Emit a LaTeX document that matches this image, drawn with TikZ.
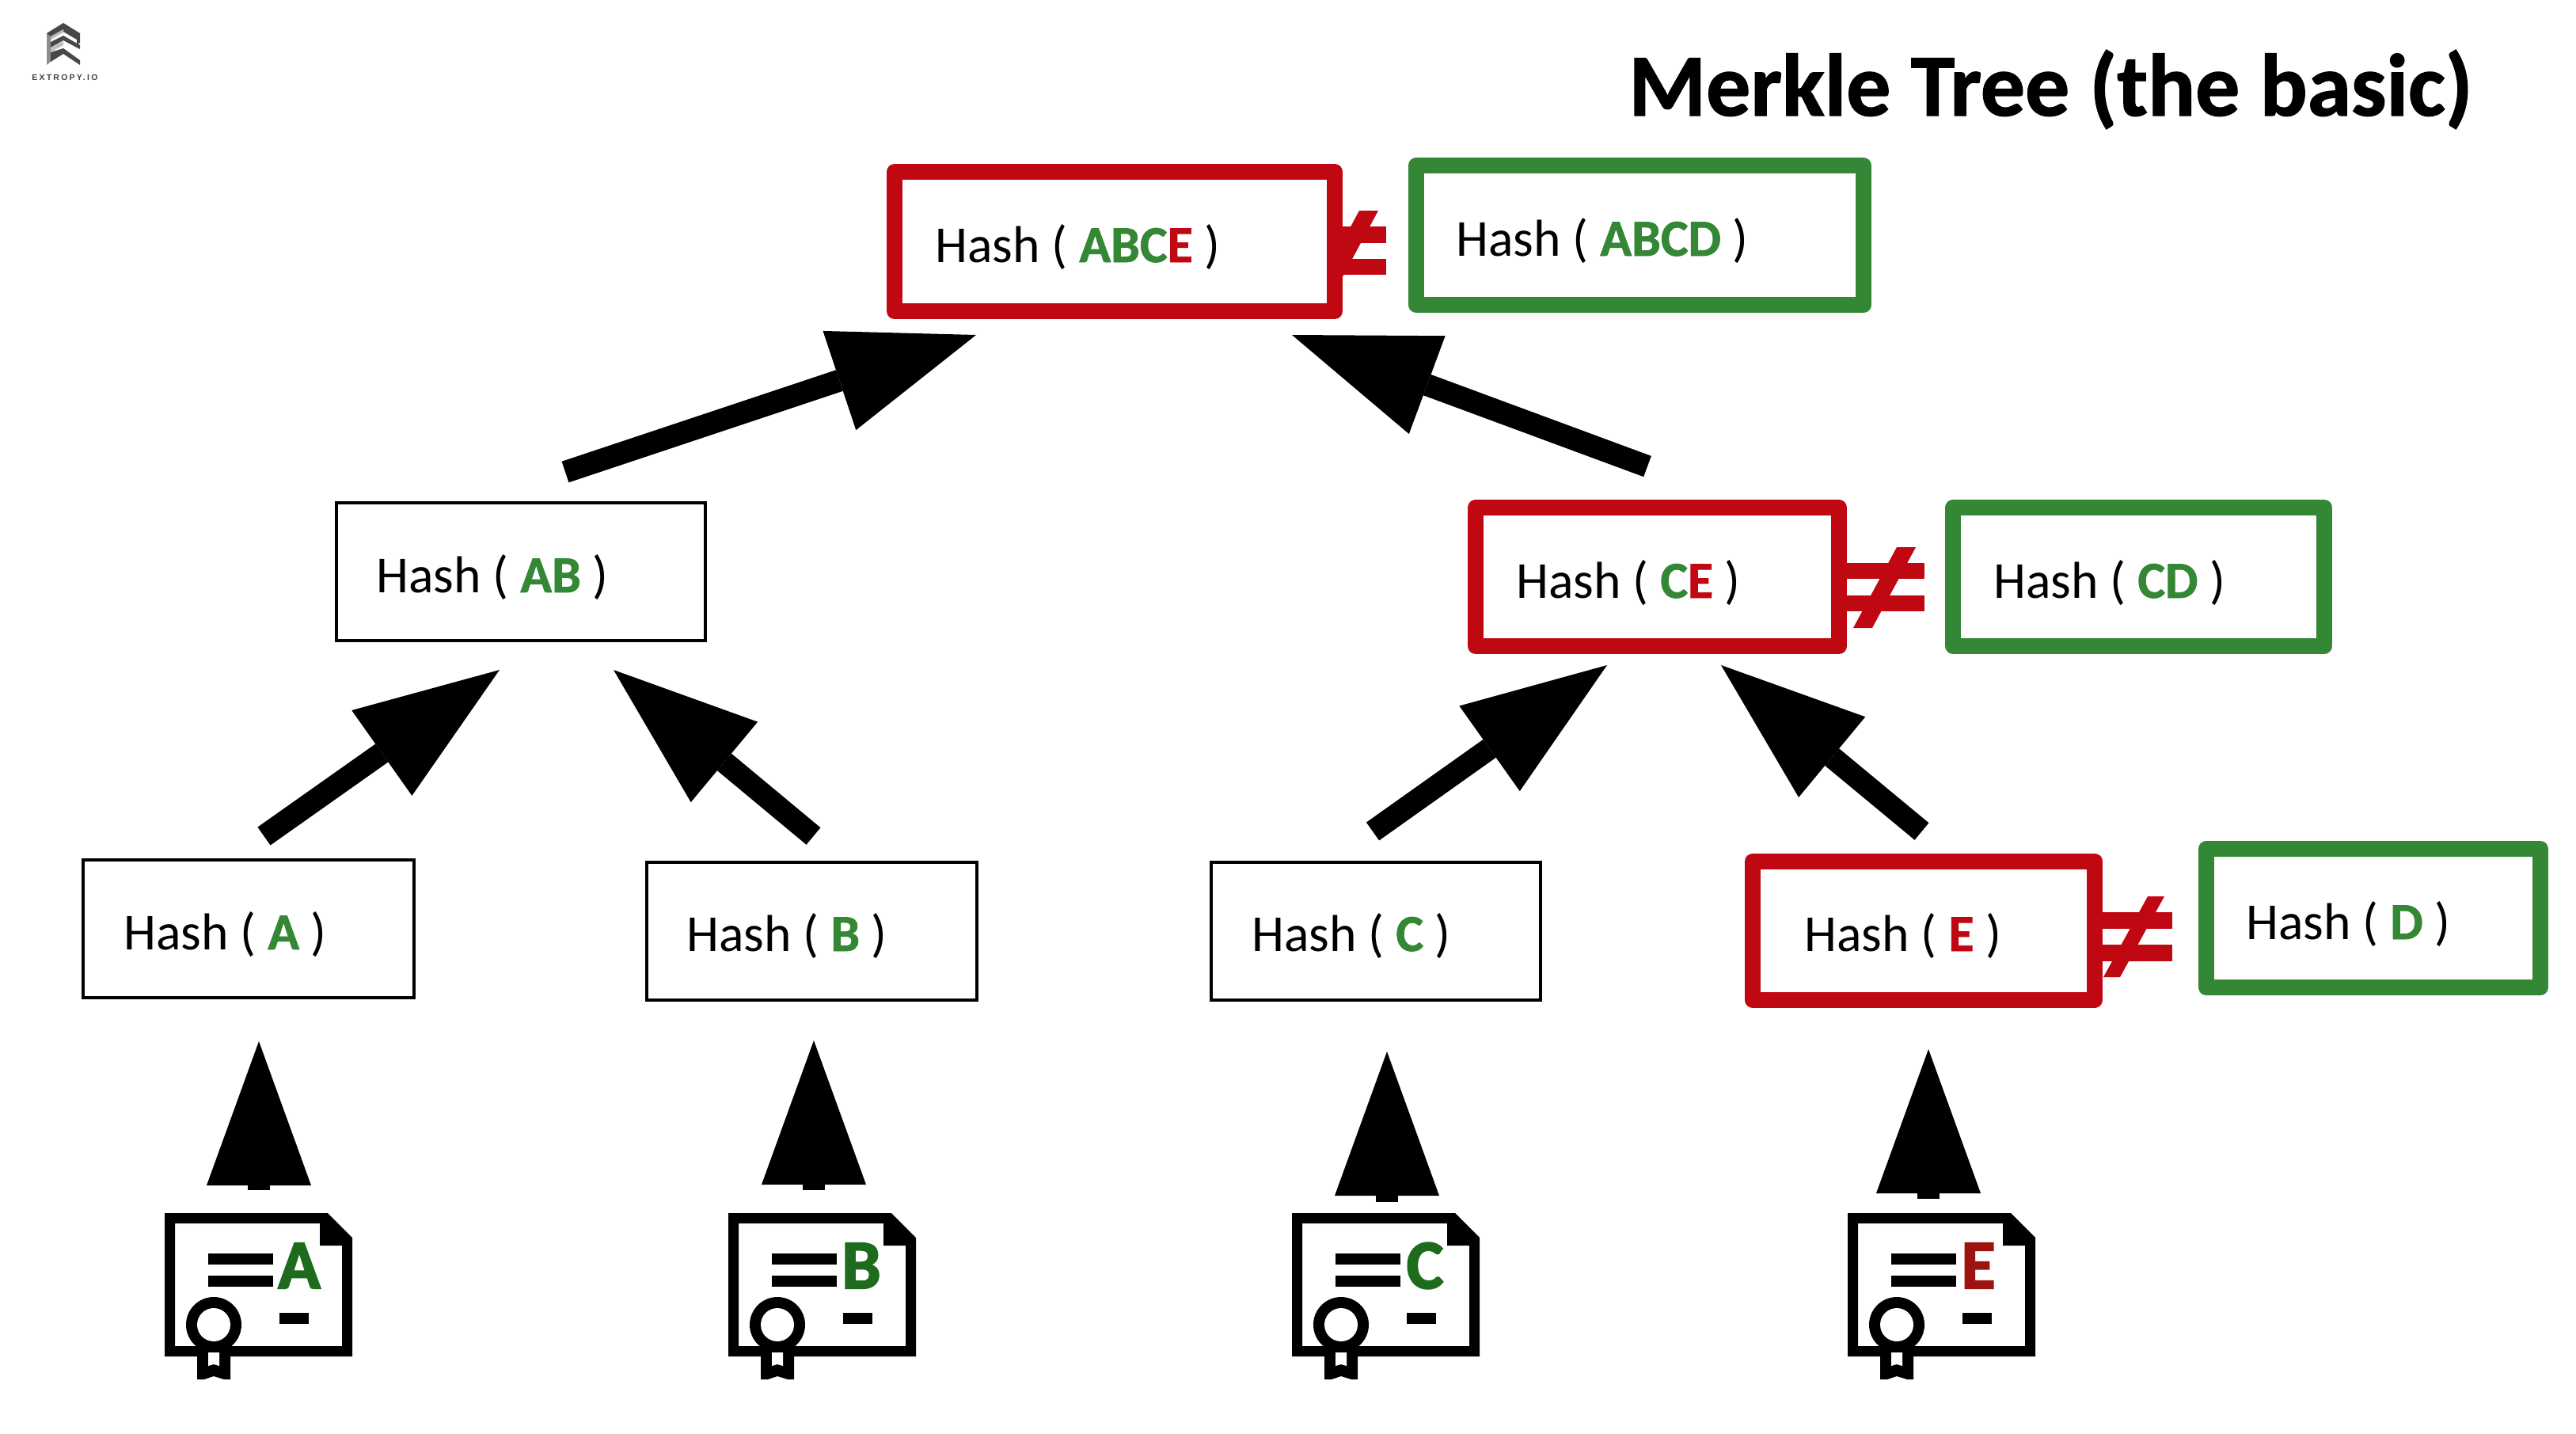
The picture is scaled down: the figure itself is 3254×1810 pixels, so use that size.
\documentclass[tikz,border=0pt]{standalone}
\usepackage{fontspec}
\setmainfont{Carlito}[BoldFeatures={FakeBold=1.2}]
\newfontfamily\logofont[LetterSpace=22]{Liberation Sans}
\newfontfamily\certfont{Carlito}[BoldFeatures={FakeBold=2.4}]
\usetikzlibrary{arrows.meta}
\definecolor{hgreen}{HTML}{348734}
\definecolor{hred}{HTML}{C00812}
\definecolor{cgreen}{HTML}{1F6B1E}
\definecolor{cred}{HTML}{9C130F}
\tikzset{
  x=0.5pt,y=-0.5pt,
  plainbox/.style={draw=black,fill=white,line width=1.75pt,inner sep=0,line join=miter},
  redbox/.style={draw=hred,fill=white,line width=10pt,inner sep=0,line join=round},
  greenbox/.style={draw=hgreen,fill=white,line width=10pt,inner sep=0,line join=round},
  hashtxt/.style={anchor=base west,inner sep=0,font=\fontsize{32.8}{38}\selectfont},
  bigarrow/.style={line width=14pt,line cap=butt,-{Triangle[length=91pt,width=66pt,line width=0pt,sep=0pt]}},
  neqred/.style={fill=hred,draw=none},
  certink/.style={fill=black,draw=none},
  certletter/.style={anchor=base,inner sep=0,font=\certfont\fontsize{44}{50}\selectfont\bfseries}
}
\newcommand{\mybox}[6]{% style,name,x0,y0,x1,y1
  \node[#1,minimum width=#5*0.5pt-#3*0.5pt,minimum height=#6*0.5pt-#4*0.5pt] (#2) at ({(#3+#5)/2},{(#4+#6)/2}) {};}
\newcommand{\mycert}[5]{% left, node name, colour, letter, letter x
  \begin{scope}[xshift=#1*0.5pt-104pt]
    \fill[certink,even odd rule] (208,1532)--(414,1532)--(445,1563)--(445,1713)--(208,1713)--cycle
      (221,1545)--(404,1545)--(404,1573)--(432,1573)--(432,1700)--(221,1700)--cycle;
    \fill[certink] (263,1583) rectangle (345,1597);
    \fill[certink] (263,1611) rectangle (345,1625);
    \fill[certink] (353,1658) rectangle (390,1672);
    \fill[certink] (249,1700)--(291,1700)--(291,1742)--(283,1742)--(270,1738)--(258,1742)--(249,1742)--cycle;
    \fill[white] (263,1708)--(277,1708)--(277,1725)--(270,1723)--(263,1725)--cycle;
    \fill[certink] (270,1673) circle[radius=17.5pt];
    \fill[white] (270,1673) circle[radius=10.5pt];
    \node[certletter,text=#3] (#2) at (#5,1627) {#4};
  \end{scope}}
\begin{document}
\begin{tikzpicture}
\useasboundingbox (0,0) rectangle (3254,1810);
\fill[white] (0,0) rectangle (3254,1810);

% logo
\fill[black!45] (59,42)--(64,46)--(64,78)--(59,82)--cycle;
\fill[black!72] (59,42)--(80,29)--(101,42)--(101,54)--(97,57)--(97,50)--(80,40)--(64,50)--(64,46)--cycle;
\fill[black!72] (64,53)--(80,45)--(101,57)--(101,62)--(97,60)--(80,51)--(64,60)--cycle;
\fill[black!72] (64,66)--(80,61)--(101,76)--(101,82)--(80,68)--(64,78)--cycle;
\fill[black!25] (64,46)--(80,37)--(80,41)--(64,50)--cycle;
\fill[black!25] (64,60)--(80,52)--(80,57)--(64,66)--cycle;
\node[anchor=base west,inner sep=0,text=black!75,font=\logofont\fontsize{5.2}{6}\selectfont\bfseries] (logotext) at (40,101) {EXTROPY.IO};

\node[anchor=base west,inner sep=0,font=\fontsize{55.9}{62}\selectfont\bfseries] (title) at (2057,146) {Merkle Tree (the basic)};

% not-equal signs (under the boxes)
\fill[neqred] (1690,286) rectangle (1751,307);
\fill[neqred] (1690,327) rectangle (1751,347);
\fill[neqred] (1717,266)--(1741,266)--(1686,368)--(1662,368)--cycle;
\fill[neqred] (2325,711) rectangle (2431,731);
\fill[neqred] (2325,752) rectangle (2431,772);
\fill[neqred] (2396,691)--(2420,691)--(2365,793)--(2341,793)--cycle;
\fill[neqred] (2650,1152) rectangle (2744,1173);
\fill[neqred] (2650,1193) rectangle (2744,1214);
\fill[neqred] (2713,1132)--(2734,1132)--(2678,1234)--(2657,1234)--cycle;

% boxes
\mybox{redbox}{abce}{1130}{217}{1686}{393}
\mybox{greenbox}{abcd}{1789}{209}{2354}{385}
\mybox{plainbox}{ab}{425}{635}{891}{809}
\mybox{redbox}{ce}{1864}{641}{2323}{816}
\mybox{greenbox}{cd}{2467}{641}{2936}{816}
\mybox{plainbox}{ha}{105}{1086}{523}{1260}
\mybox{plainbox}{hb}{817}{1089}{1234}{1263}
\mybox{plainbox}{hc}{1530}{1089}{1946}{1263}
\mybox{redbox}{he}{2214}{1087.5}{2646}{1263}
\mybox{greenbox}{hd}{2787}{1072}{3209}{1247}

% box texts
\node[hashtxt] (tabce) at (1181,331) {Hash ( \textbf{\textcolor{hgreen}{ABC}\textcolor{hred}{E}} )};
\node[hashtxt] (tabcd) at (1839,323) {Hash ( \textbf{\textcolor{hgreen}{ABCD}} )};
\node[hashtxt] (tab) at (475,748) {Hash ( \textbf{\textcolor{hgreen}{AB}} )};
\node[hashtxt] (tce) at (1915,755) {Hash ( \textbf{\textcolor{hgreen}{C}\textcolor{hred}{E}} )};
\node[hashtxt] (tcd) at (2518,755) {Hash ( \textbf{\textcolor{hgreen}{CD}} )};
\node[hashtxt] (ta) at (156,1199) {Hash ( \textbf{\textcolor{hgreen}{A}} )};
\node[hashtxt] (tb) at (867,1201) {Hash ( \textbf{\textcolor{hgreen}{B}} )};
\node[hashtxt] (tc) at (1581,1201) {Hash ( \textbf{\textcolor{hgreen}{C}} )};
\node[hashtxt] (te) at (2279,1201) {Hash ( \textbf{\textcolor{hred}{E}} )};
\node[hashtxt] (td) at (2837,1186) {Hash ( \textbf{\textcolor{hgreen}{D}} )};

% arrow end points
\coordinate (a1s) at (333.5,1056); \coordinate (a1e) at (631,846);
\coordinate (a2s) at (1027.5,1056); \coordinate (a2e) at (775,846);
\coordinate (a3s) at (714,596); \coordinate (a3e) at (1233,423);
\coordinate (a4s) at (2081,589); \coordinate (a4e) at (1632,423);
\coordinate (a5s) at (1734,1050); \coordinate (a5e) at (2030,840);
\coordinate (a6s) at (2427.5,1050); \coordinate (a6e) at (2174,840);
\coordinate (v1s) at (327,1503); \coordinate (v1e) at (327,1315);
\coordinate (v2s) at (1028,1503); \coordinate (v2e) at (1028,1314);
\coordinate (v3s) at (1752,1518); \coordinate (v3e) at (1752,1328);
\coordinate (v4s) at (2436,1514); \coordinate (v4e) at (2436,1325);
\foreach \p in {a1,a2,a3,a4,a5,a6,v1,v2,v3,v4}{\draw[bigarrow] (\p s) -- (\p e);}

% certificates
\mycert{208}{lA}{cgreen}{A}{378}
\mycert{920}{lB}{cgreen}{B}{376}
\mycert{1632}{lC}{cgreen}{C}{376}
\mycert{2334}{lE}{cred}{E}{373}
\end{tikzpicture}
\end{document}
